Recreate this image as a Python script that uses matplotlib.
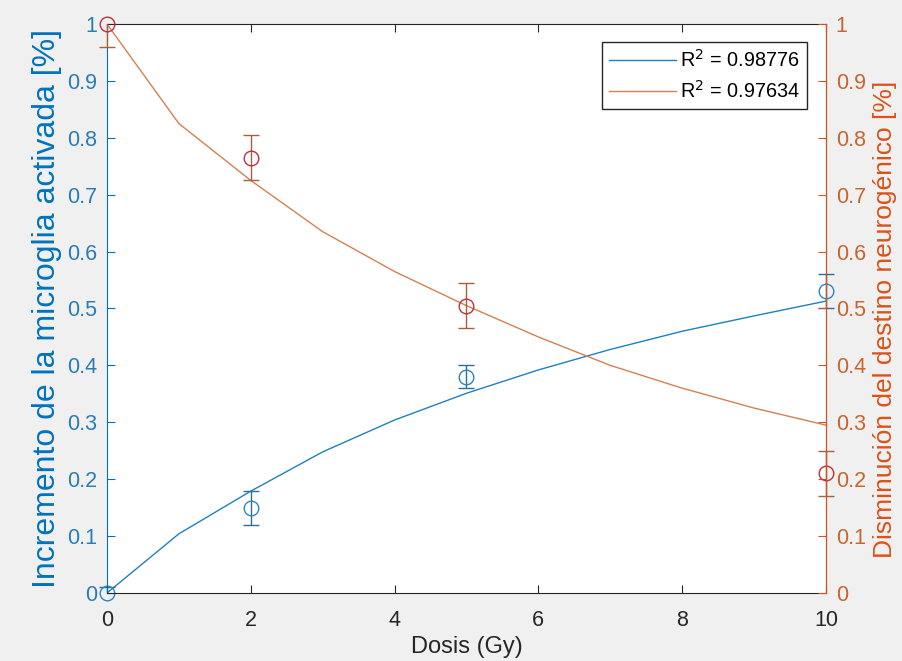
import numpy as np
import matplotlib.pyplot as plt
from matplotlib.patches import Rectangle

# fitted curves (evaluated at integer doses)
dose_fit = [0, 1, 2, 3, 4, 5, 6, 7, 8, 9, 10]
micro_fit = [0.0, 0.104, 0.179, 0.248, 0.304, 0.351, 0.392, 0.428, 0.460, 0.487, 0.513]
neuro_fit = [1.0, 0.825, 0.725, 0.635, 0.565, 0.505, 0.450, 0.400, 0.360, 0.325, 0.295]

# measured points
dose = [0, 2, 5, 10]
micro = [0.0, 0.15, 0.38, 0.53]
micro_err = [0.01, 0.03, 0.02, 0.03]
neuro = [1.0, 0.765, 0.505, 0.21]
neuro_err = [0.04, 0.04, 0.04, 0.04]

blue = '#0072BD'
orange = '#D95319'
red = '#C0303A'
fg = '#f0f0f0'

plt.rcParams['font.family'] = ['Liberation Sans', 'DejaVu Sans']

fig = plt.figure(figsize=(9.02, 6.61), dpi=100, facecolor=fg)
ax = fig.add_axes([0.1186, 0.1029, 0.7971, 0.8608])
ax2 = ax.twinx()


def clip_vertical(a, eb):
    # error bars cut at the y limits only (caps may stick out sideways)
    box = Rectangle((-0.1, 0), 1.2, 1, transform=a.transAxes)
    for art in list(eb.lines[1]) + list(eb.lines[2]):
        art.set_clip_path(box)


l1, = ax.plot(dose_fit, micro_fit, color='#1F80C0', lw=1.0)
eb1 = ax.errorbar(dose, micro, yerr=micro_err, fmt='none', ecolor='#2A6F9A',
                  elinewidth=1.0, capsize=5.8, capthick=1.0)
clip_vertical(ax, eb1)
ax.plot(dose, micro, 'o', mfc='none', mec='#2C86BE', ms=10.5, mew=1.0, clip_on=False)

l2, = ax2.plot(dose_fit, neuro_fit, color='#D48052', lw=1.0)
eb2 = ax2.errorbar(dose, neuro, yerr=neuro_err, fmt='none', ecolor='#A8603A',
                   elinewidth=1.0, capsize=5.8, capthick=1.0)
clip_vertical(ax2, eb2)
ax2.plot(dose, neuro, 'o', mfc='none', mec=red, ms=10.5, mew=1.0, clip_on=False)

for a in (ax, ax2):
    a.set_xlim(0, 10)
    a.set_ylim(0, 1)
    a.set_yticks(np.arange(0, 1.01, 0.1))
    a.set_yticklabels(['0'] + ['%.1f' % v for v in np.arange(0.1, 0.95, 0.1)] + ['1'])

ax.set_xticks([0, 2, 4, 6, 8, 10])
ax.tick_params(axis='x', direction='in', top=True, labelsize=15.5, colors='#262626',
               length=6, pad=12)
ax.tick_params(axis='y', direction='in', colors=blue, labelsize=15.5, length=6, pad=7)
ax2.tick_params(axis='y', direction='in', colors=orange, labelsize=15.5, length=6, pad=7)
for t in ax.get_yticklabels():
    t.set_color('#2A7DB3')
for t in ax2.get_yticklabels():
    t.set_color('#C8652F')

ax.spines['left'].set_color(blue)
ax.spines['bottom'].set_color('#262626')
ax.spines['top'].set_color('#262626')
ax2.spines['right'].set_color(orange)
ax2.spines['left'].set_visible(False)
ax2.spines['top'].set_visible(False)
ax2.spines['bottom'].set_visible(False)

ax.set_ylabel('Incremento de la microglia activada [%]', color=blue, fontsize=23, labelpad=4)
ax2.set_ylabel('Disminución del destino neurogénico [%]', color=orange, fontsize=19)
ax2.yaxis.set_label_coords(1.066, 0.48)
ax.set_xlabel('Dosis (Gy)', fontsize=17, color='#262626', labelpad=4)

leg = ax2.legend([l1, l2], ['R$^2$ = 0.98776', 'R$^2$ = 0.97634'],
                 loc='upper right', bbox_to_anchor=(0.9736, 0.968), fontsize=14.3,
                 fancybox=False, edgecolor='#262626', framealpha=1,
                 handlelength=3.4, borderpad=0.35, labelspacing=0.45, handletextpad=0.2,
                 borderaxespad=0)
leg.get_frame().set_linewidth(1.0)

fig.savefig('out.png', dpi=100, facecolor=fg)
